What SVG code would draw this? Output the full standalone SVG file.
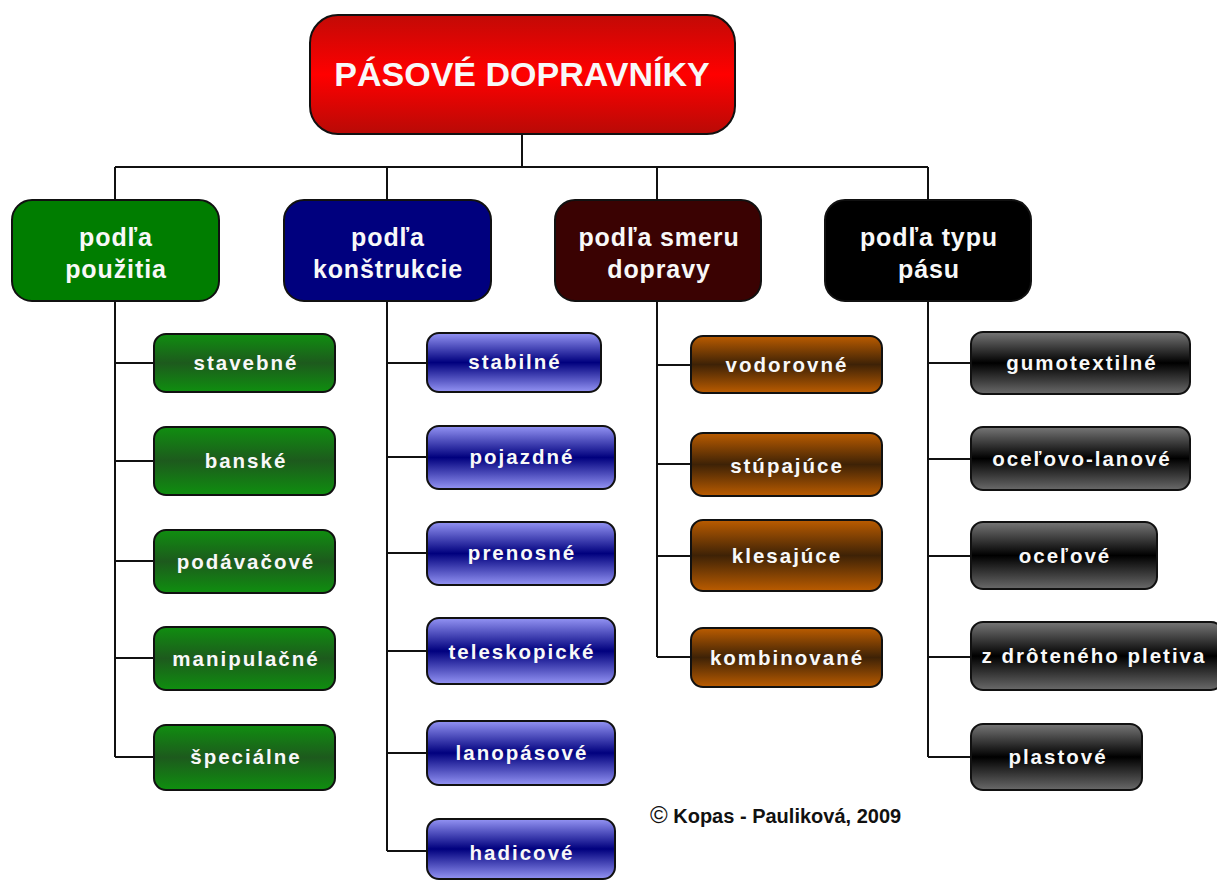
<svg xmlns="http://www.w3.org/2000/svg" width="1217" height="880" viewBox="0 0 1217 880">
<defs>
<linearGradient id="gRed" x1="0" y1="0" x2="0" y2="1">
<stop offset="0" stop-color="#c20a06"/><stop offset="0.5" stop-color="#ff0000"/><stop offset="1" stop-color="#b80a06"/>
</linearGradient>
<linearGradient id="gGreen" x1="0" y1="0" x2="0" y2="1">
<stop offset="0" stop-color="#108e10"/><stop offset="0.5" stop-color="#1d5a1d"/><stop offset="1" stop-color="#0f8f0f"/>
</linearGradient>
<linearGradient id="gBlue" x1="0" y1="0" x2="0" y2="1">
<stop offset="0" stop-color="#9494f4"/><stop offset="0.5" stop-color="#00007e"/><stop offset="1" stop-color="#9494f4"/>
</linearGradient>
<linearGradient id="gBrown" x1="0" y1="0" x2="0" y2="1">
<stop offset="0" stop-color="#bb5c00"/><stop offset="0.5" stop-color="#3e2206"/><stop offset="1" stop-color="#bb5c00"/>
</linearGradient>
<linearGradient id="gBlack" x1="0" y1="0" x2="0" y2="1">
<stop offset="0" stop-color="#777777"/><stop offset="0.5" stop-color="#000000"/><stop offset="1" stop-color="#6a6a6a"/>
</linearGradient>
</defs>
<style>
.b{stroke:#111;stroke-width:2}
.con{fill:none;stroke:#111;stroke-width:2}
text{font-family:"Liberation Sans",Arial,sans-serif;font-weight:bold;fill:#f8f8f8;text-anchor:middle}
.root{font-size:34px}
.cat{font-size:25px;letter-spacing:0.9px}
.ch{font-size:20.5px;letter-spacing:2px}
.copy{fill:#111;font-size:20px;text-anchor:start}
.cs{font-size:24px;font-weight:normal}
</style>
<rect width="1217" height="880" fill="#ffffff"/>
<g id="connectors" class="con">
<path d="M522 134V167M115 167H928M115 167V200M387 167V200M657 167V200M928 167V200"/>
<path d="M115 301V757M115 363H154M115 461H154M115 561H154M115 658H154M115 757H154"/>
<path d="M387 301V851M387 363H427M387 457H427M387 553H427M387 651H427M387 753H427M387 851H427"/>
<path d="M657 301V657M657 365H691M657 464H691M657 556H691M657 657H691"/>
<path d="M928 301V757M928 363H971M928 459H971M928 556H971M928 657H971M928 757H971"/>
</g>
<g id="root"><rect class="b" x="310" y="15" width="425" height="119" rx="28" fill="url(#gRed)"/><text class="root" x="522" y="86">PÁSOVÉ DOPRAVNÍKY</text></g>
<g id="cat-pouzitie"><rect class="b" x="12" y="200" width="207" height="101" rx="20" fill="#007d00"/><text class="cat" x="116" y="246">podľa</text><text class="cat" x="116" y="278">použitia</text></g>
<g id="cat-konstrukcia"><rect class="b" x="284" y="200" width="207" height="101" rx="20" fill="#00007e"/><text class="cat" x="388" y="246">podľa</text><text class="cat" x="388" y="278">konštrukcie</text></g>
<g id="cat-smer"><rect class="b" x="555" y="200" width="206" height="101" rx="20" fill="#3a0202"/><text class="cat" x="659" y="246">podľa smeru</text><text class="cat" x="659" y="278">dopravy</text></g>
<g id="cat-typ"><rect class="b" x="825" y="200" width="206" height="101" rx="20" fill="#000000"/><text class="cat" x="929" y="246">podľa typu</text><text class="cat" x="929" y="278">pásu</text></g>

<g id="n-stavebne"><rect class="b" x="154" y="334" width="181" height="58" rx="12" fill="url(#gGreen)"/><text class="ch" x="246" y="370">stavebné</text></g>
<g id="n-banske"><rect class="b" x="154" y="427" width="181" height="68" rx="12" fill="url(#gGreen)"/><text class="ch" x="246" y="468">banské</text></g>
<g id="n-podavacove"><rect class="b" x="154" y="530" width="181" height="63" rx="12" fill="url(#gGreen)"/><text class="ch" x="246" y="569">podávačové</text></g>
<g id="n-manipulacne"><rect class="b" x="154" y="627" width="181" height="63" rx="12" fill="url(#gGreen)"/><text class="ch" x="246" y="666">manipulačné</text></g>
<g id="n-specialne"><rect class="b" x="154" y="725" width="181" height="65" rx="12" fill="url(#gGreen)"/><text class="ch" x="246" y="764">špeciálne</text></g>

<g id="n-stabilne"><rect class="b" x="427" y="333" width="174" height="59" rx="12" fill="url(#gBlue)"/><text class="ch" x="515" y="369">stabilné</text></g>
<g id="n-pojazdne"><rect class="b" x="427" y="426" width="188" height="63" rx="12" fill="url(#gBlue)"/><text class="ch" x="522" y="464">pojazdné</text></g>
<g id="n-prenosne"><rect class="b" x="427" y="522" width="188" height="63" rx="12" fill="url(#gBlue)"/><text class="ch" x="522" y="560">prenosné</text></g>
<g id="n-teleskopicke"><rect class="b" x="427" y="618" width="188" height="66" rx="12" fill="url(#gBlue)"/><text class="ch" x="522" y="659">teleskopické</text></g>
<g id="n-lanopasove"><rect class="b" x="427" y="721" width="188" height="64" rx="12" fill="url(#gBlue)"/><text class="ch" x="522" y="760">lanopásové</text></g>
<g id="n-hadicove"><rect class="b" x="427" y="819" width="188" height="60" rx="12" fill="url(#gBlue)"/><text class="ch" x="522" y="860">hadicové</text></g>

<g id="n-vodorovne"><rect class="b" x="691" y="336" width="191" height="57" rx="12" fill="url(#gBrown)"/><text class="ch" x="787" y="372">vodorovné</text></g>
<g id="n-stupajuce"><rect class="b" x="691" y="433" width="191" height="63" rx="12" fill="url(#gBrown)"/><text class="ch" x="787" y="473">stúpajúce</text></g>
<g id="n-klesajuce"><rect class="b" x="691" y="520" width="191" height="71" rx="12" fill="url(#gBrown)"/><text class="ch" x="787" y="563">klesajúce</text></g>
<g id="n-kombinovane"><rect class="b" x="691" y="628" width="191" height="59" rx="12" fill="url(#gBrown)"/><text class="ch" x="787" y="665">kombinované</text></g>

<g id="n-gumotextilne"><rect class="b" x="971" y="332" width="219" height="62" rx="12" fill="url(#gBlack)"/><text class="ch" x="1082" y="370">gumotextilné</text></g>
<g id="n-ocelovo-lanove"><rect class="b" x="971" y="427" width="219" height="63" rx="12" fill="url(#gBlack)"/><text class="ch" x="1082" y="466">oceľovo-lanové</text></g>
<g id="n-ocelove"><rect class="b" x="971" y="522" width="186" height="67" rx="12" fill="url(#gBlack)"/><text class="ch" x="1065" y="563">oceľové</text></g>
<g id="n-z-droteneho"><rect class="b" x="971" y="622" width="252" height="68" rx="12" fill="url(#gBlack)"/><text class="ch" x="1094" y="663">z drôteného pletiva</text></g>
<g id="n-plastove"><rect class="b" x="971" y="724" width="171" height="66" rx="12" fill="url(#gBlack)"/><text class="ch" x="1058" y="764">plastové</text></g>

<text class="copy" x="650" y="823"><tspan class="cs">©</tspan> Kopas - Pauliková, 2009</text>
</svg>
